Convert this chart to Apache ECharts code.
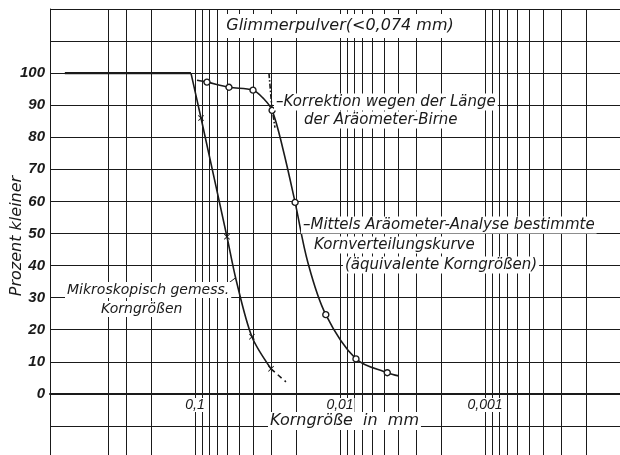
<!DOCTYPE html>
<html>
<head>
<meta charset="utf-8">
<script src="https://cdn.jsdelivr.net/npm/echarts@6/dist/echarts.min.js"></script>
<style>html,body{margin:0;padding:0;background:#fff;overflow:hidden}#c{width:660px;height:480px}</style>
</head>
<body>
<div id="c"></div>
<script>
// ---- data ----
const gridSizes = [0.4,0.3,0.2,0.1,0.09,0.08,0.07,0.06,0.05,0.04,0.03,0.02,
  0.01,0.009,0.008,0.007,0.006,0.005,0.004,0.003,0.002,
  0.001,0.0009,0.0008,0.0007,0.0006,0.0005,0.0004,0.0003,0.0002,0.0001];
const xTickLabels = {'-1':'0,1','-2':'0,01','-3':'0,001'};
const yTickValues = [0,10,20,30,40,50,60,70,80,90,100];

const topSize = [0.79, 0.1066];
const topPct = [100, 100];

const mikroSize = [0.1066, 0.0909, 0.0602, 0.0521, 0.0405, 0.0299];
const mikroPct  = [100, 86, 49, 35.6, 17.8, 7.8];
const mikroMark = [false, true, true, false, true, true];
const mikroTailSize = [0.0299, 0.0236];
const mikroTailPct  = [7.8, 3.75];

const araeoSize = [0.0969,0.0827,0.0583,0.0398,0.0339,0.0294,0.0247,0.0204,0.01664,0.01253,0.00776,0.00472,0.00394];
const araeoPct  = [97.8,97.2,95.6,94.7,92.2,88.4,76.2,59.7,40.9,24.7,10.9,6.6,5.6];
const araeoMark = [false,true,true,true,false,true,false,true,false,true,true,true,false];

const korrSize = [0.0309, 0.0296, 0.0281];
const korrPct  = [100, 90, 83];

// ---- chart ----
const INK = '#1a1a1a';
const crossPath = 'path://M0,1L1,0L5,4L9,0L10,1L6,5L10,9L9,10L5,6L1,10L0,9L4,5Z';
const annFont = 'italic 15px "DejaVu Sans", sans-serif';
const Y_MIN = -20, Y_MAX = 120;

function pts(xs, ys, marks, sym) {
  return xs.map((x, i) => marks && !marks[i]
    ? {value: [x, ys[i]], symbol: 'none'}
    : {value: [x, ys[i]], symbol: sym});
}
function txt(x, y, s, font, extra) {
  return {
    type: 'text', x: x, y: y, z: 100, zlevel: 1,
    style: Object.assign({text: s, font: font || annFont, fill: INK,
      align: 'left', verticalAlign: 'middle',
      backgroundColor: '#fff', padding: [1, 2]}, extra || {})
  };
}

const chart = echarts.init(document.getElementById('c'), null, {renderer: 'canvas'});
chart.setOption({
  animation: false,
  backgroundColor: '#fff',
  grid: {left: 50, top: 9, width: 580, height: 449, containLabel: false},
  xAxis: {
    type: 'log', logBase: 10, min: 0.0001, max: 1, inverse: true,
    position: 'bottom', offset: -64, z: 4,
    axisLine: {show: true, onZero: false, lineStyle: {color: INK, width: 2}},
    axisTick: {show: false},
    splitLine: {show: false},
    axisLabel: {
      margin: 4, color: INK,
      fontFamily: '"Liberation Sans", sans-serif',
      fontStyle: 'italic', fontSize: 14,
      backgroundColor: '#fff', padding: [0, 1],
      formatter: v => xTickLabels[String(Math.round(Math.log10(v)))] || ''
    }
  },
  yAxis: {
    type: 'value', min: Y_MIN, max: Y_MAX, interval: 10,
    axisLine: {show: true, lineStyle: {color: INK, width: 1}},
    axisTick: {show: false},
    splitLine: {show: true, lineStyle: {color: INK, width: 1}},
    axisLabel: {
      margin: 5, color: INK,
      fontFamily: '"Liberation Sans", sans-serif',
      fontStyle: 'italic', fontWeight: 'bold', fontSize: 15,
      formatter: v => yTickValues.indexOf(v) >= 0 ? String(v) : ''
    }
  },
  series: [
    {
      type: 'custom', silent: true, z: 1, clip: false,
      data: gridSizes.map(s => [s]),
      renderItem: function (params, api) {
        const s = api.value(0);
        const p1 = api.coord([s, Y_MAX]);
        const p2 = api.coord([s, Y_MIN]);
        return {
          type: 'line',
          shape: {x1: Math.round(p1[0]) + 0.5, y1: p1[1], x2: Math.round(p2[0]) + 0.5, y2: p2[1]},
          style: {stroke: INK, lineWidth: 1}
        };
      }
    },
    {
      type: 'line', data: topSize.map((s, i) => [s, topPct[i]]), symbol: 'none',
      lineStyle: {color: INK, width: 2.2}, z: 5
    },
    {
      type: 'line', data: pts(mikroSize, mikroPct, mikroMark, crossPath),
      smooth: 0.3, symbolSize: 6, showSymbol: true,
      itemStyle: {color: INK}, lineStyle: {color: INK, width: 1.6}, z: 5,
      markLine: {
        silent: true, symbol: ['none', 'none'], label: {show: false},
        lineStyle: {color: INK, width: 1, type: 'solid'},
        data: [[{coord: [0.0592, 34.4]}, {coord: [0.0521, 36.3]}]]
      }
    },
    {
      type: 'line', data: mikroTailSize.map((s, i) => [s, mikroTailPct[i]]),
      symbol: 'none', lineStyle: {color: INK, width: 1.6, type: [5, 4]}, z: 5
    },
    {
      type: 'line', data: pts(araeoSize, araeoPct, araeoMark, 'circle'),
      smooth: 0.35, symbolSize: 6, showSymbol: true,
      itemStyle: {color: '#fff', borderColor: INK, borderWidth: 1.4},
      lineStyle: {color: INK, width: 1.6}, z: 6
    },
    {
      type: 'line', data: korrSize.map((s, i) => [s, korrPct[i]]),
      symbol: 'none', lineStyle: {color: INK, width: 1.6, type: [5, 2, 1.5, 2]}, z: 5
    }
  ],
  graphic: [
    txt(340, 26, 'Glimmerpulver(<0,074 mm)', 'italic 16px "DejaVu Sans", sans-serif', {align: 'center', padding: [4, 4]}),
    txt(274, 102, '–Korrektion wegen der Länge'),
    txt(302, 120, 'der Aräometer-Birne'),
    txt(301, 225, '–Mittels Aräometer-Analyse bestimmte'),
    txt(312, 245, 'Kornverteilungskurve'),
    txt(343, 265, '(äquivalente Korngrößen)'),
    txt(65, 290, 'Mikroskopisch gemess.', 'italic 14px "DejaVu Sans", sans-serif'),
    txt(99, 309, 'Korngrößen', 'italic 14px "DejaVu Sans", sans-serif'),
    txt(268, 421, 'Korngröße  in  mm', 'italic 16px "DejaVu Sans", sans-serif'),
    {
      type: 'text', x: 17, y: 236, rotation: Math.PI / 2, z: 100, zlevel: 1,
      style: {text: 'Prozent kleiner', font: 'italic 16px "DejaVu Sans", sans-serif',
        fill: INK, align: 'center', verticalAlign: 'middle'}
    }
  ]
});
</script>
</body>
</html>
